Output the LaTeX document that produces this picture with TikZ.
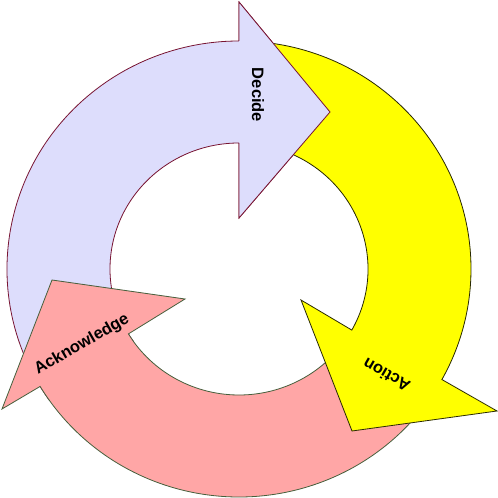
\documentclass[tikz,border=0pt]{standalone}
\usepackage{fontspec}
\setmainfont{Liberation Sans}
\usetikzlibrary{calc}
\definecolor{pfill}{RGB}{221,221,252}
\definecolor{pline}{RGB}{120,20,50}
\definecolor{yfill}{RGB}{255,255,0}
\definecolor{yline}{RGB}{40,40,0}
\definecolor{kfill}{RGB}{255,166,166}
\definecolor{kline}{RGB}{70,95,60}
\begin{document}
\begin{tikzpicture}[x=1pt,y=1pt,
  arrowshape/.style={line width=0.8pt, line join=miter},
  lbl/.style={font=\fontsize{16.5}{18}\selectfont\bfseries, text=black, inner sep=0pt}]
\useasboundingbox (0,0) rectangle (498,498);
\coordinate (c) at (239,229);
% purple arrow (Decide)
\draw[arrowshape, fill=pfill, draw=pline]
  (c) ++(215:232pt and 228pt) arc[start angle=215, end angle=90, x radius=232pt, y radius=228pt]
  -- (239,496) -- (330,386) -- (239,280)
  -- (239,355) arc[start angle=90, end angle=215, x radius=129pt, y radius=126pt] -- cycle;
% pink arrow (Acknowledge)
\draw[arrowshape, fill=kfill, draw=kline]
  (c) ++(320:232pt and 228pt) arc[start angle=320, end angle=211, x radius=232pt, y radius=228pt]
  -- (2,89) -- (52,218) -- (185,199)
  -- ($(c)+(211:129pt and 126pt)$) arc[start angle=211, end angle=320, x radius=129pt, y radius=126pt] -- cycle;
% yellow arrow (Action)
\draw[arrowshape, fill=yfill, draw=yline]
  (c) ++(88:232pt and 228pt) arc[start angle=88, end angle=-29, x radius=232pt, y radius=228pt]
  -- (497,87) -- (352,67) -- (301,198)
  -- ($(c)+(-29:129pt and 126pt)$) arc[start angle=-29, end angle=88, x radius=129pt, y radius=126pt] -- cycle;
% purple head over yellow tail
\fill[pfill] (239,496) -- (330,386) -- (239,280) -- cycle;
\draw[arrowshape, draw=pline] (239,457) -- (239,496) -- (330,386) -- (239,280) -- (239,355);
% labels
\node[lbl, rotate=-90] (decide) at (258,403) {Decide};
\node[lbl, rotate=150] (action) at (386.5,123) {Action};
\node[lbl, rotate=30] (ack) at (82,153.5) {Acknowledge};
\end{tikzpicture}
\end{document}
